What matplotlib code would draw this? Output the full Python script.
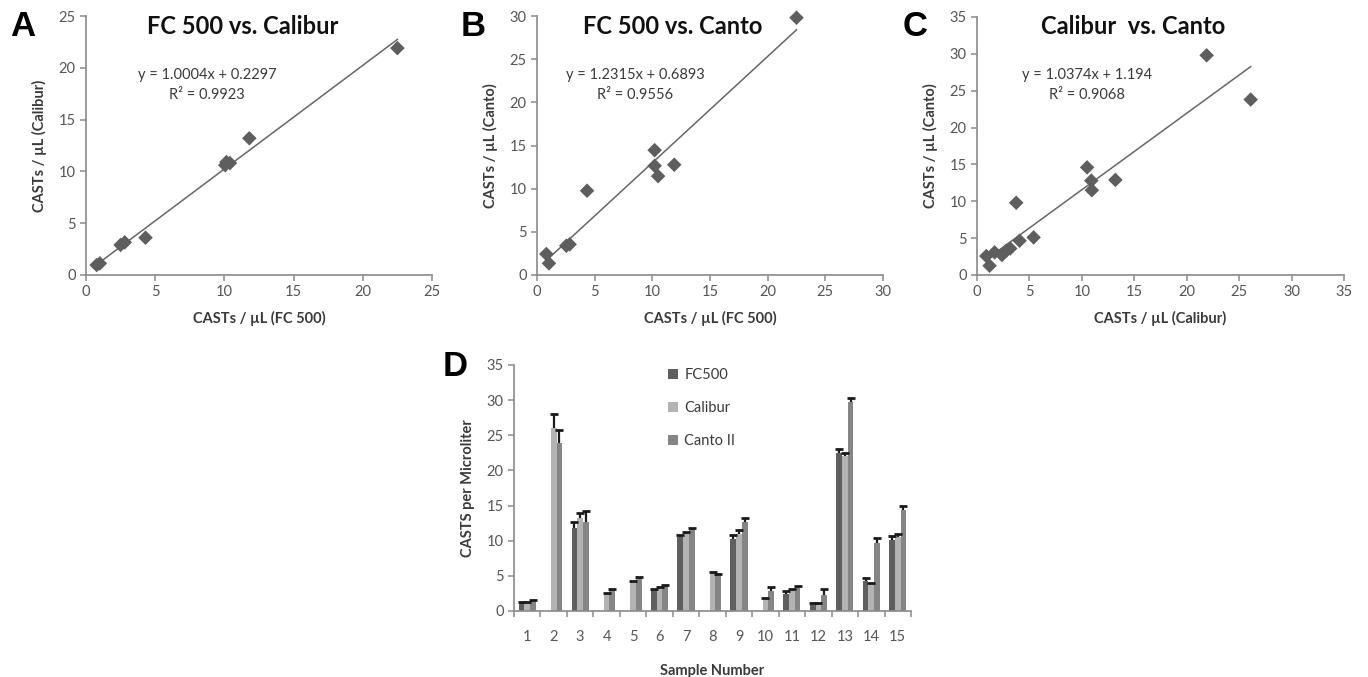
import matplotlib
matplotlib.use("Agg")
import matplotlib.pyplot as plt
import numpy as np

plt.rcParams['font.family'] = ['Lato', 'DejaVu Sans']

# ---------------- data ----------------
A_x = [0.77, 1.0, 2.5, 2.8, 4.3, 10.06, 10.15, 10.4, 11.8, 22.5]
A_y = [0.96, 1.12, 2.9, 3.15, 3.6, 10.6, 10.9, 10.8, 13.2, 21.9]
B_x = [0.81, 1.04, 2.54, 2.83, 4.34, 10.2, 10.2, 10.5, 11.9, 22.5]
B_y = [2.43, 1.35, 3.39, 3.55, 9.76, 14.46, 12.65, 11.45, 12.77, 29.8]
C_x = [0.89, 1.2, 1.68, 2.38, 2.79, 3.17, 3.74, 4.06, 5.4, 10.5, 10.9, 10.95, 13.2, 21.9, 26.1]
C_y = [2.57, 1.26, 3.07, 2.71, 3.3, 3.6, 9.8, 4.65, 5.1, 14.6, 12.8, 11.5, 12.9, 29.8, 23.8]

fit_slopes = [1.0004, 1.2315, 1.0374]
fit_intercepts = [0.2297, 0.6893, 1.194]
fit_eqs = ["y = 1.0004x + 0.2297", "y = 1.2315x + 0.6893", "y = 1.0374x + 1.194"]
fit_r2 = ["R² = 0.9923", "R² = 0.9556", "R² = 0.9068"]
titles = ["FC 500 vs. Calibur", "FC 500 vs. Canto", "Calibur  vs. Canto"]
xlabels = ["CASTs / µL (FC 500)", "CASTs / µL (FC 500)", "CASTs / µL (Calibur)"]
ylabels = ["CASTs / µL (Calibur)", "CASTs / µL (Canto)", "CASTs / µL (Canto)"]
axis_max = [25, 30, 35]
panel_letters = ["A", "B", "C", "D"]

samples = [str(i) for i in range(1, 16)]
series_names = ["FC500", "Calibur", "Canto II"]
FC500 = [1.2, 0, 11.8, 0, 0, 2.95, 10.5, 0, 10.2, 0, 2.43, 1.05, 22.5, 4.3, 10.1]
FC500_err = [0.1, 0, 0.9, 0, 0, 0.15, 0.3, 0, 0.6, 0, 0.35, 0.1, 0.5, 0.45, 0.6]
Calibur = [1.2, 26.1, 13.2, 2.4, 4.15, 3.3, 11.0, 5.45, 10.9, 1.76, 2.86, 1.05, 22.1, 3.8, 10.5]
Calibur_err = [0.1, 1.9, 0.7, 0.12, 0.15, 0.15, 0.3, 0.08, 0.6, 0.05, 0.2, 0.05, 0.35, 0.15, 0.4]
Canto = [1.45, 23.9, 12.7, 2.95, 4.76, 3.67, 11.5, 5.24, 12.7, 2.9, 3.29, 2.24, 29.8, 9.7, 14.4]
Canto_err = [0.1, 1.8, 1.5, 0.15, 0.1, 0.1, 0.3, 0.05, 0.5, 0.45, 0.3, 0.85, 0.5, 0.75, 0.6]

# ---------------- figure ----------------
W, H = 1368, 677
fig = plt.figure(figsize=(W / 100, H / 100), dpi=100)
fig.patch.set_facecolor("white")

def px_axes(l, t, r, b):
    return fig.add_axes([l / W, (H - b) / H, (r - l) / W, (b - t) / H])

spine_c = "#8a8a8a"
tick_c = "#555555"
label_c = "#3a3a3a"

def style(ax):
    for s in ["top", "right"]:
        ax.spines[s].set_visible(False)
    for s in ["left", "bottom"]:
        ax.spines[s].set_color(spine_c)
        ax.spines[s].set_linewidth(1.2)
    ax.tick_params(colors=spine_c, labelcolor=tick_c, labelsize=10.5,
                   direction="out", length=4, width=1.1)

scatter_boxes = [(86, 16, 432, 275), (537, 16, 883, 275), (977, 17, 1344, 275)]
scatter_x = [A_x, B_x, C_x]
scatter_y = [A_y, B_y, C_y]
title_x = [243, 673, 1133]
eq_x = [207, 635, 1087]
letter_x = [23, 473, 915]

for i in range(3):
    l, t, r, b = scatter_boxes[i]
    ax = px_axes(l, t, r, b)
    style(ax)
    m = axis_max[i]
    ax.set_xlim(0, m)
    ax.set_ylim(0, m)
    ax.set_xticks(np.arange(0, m + 1, 5))
    ax.set_yticks(np.arange(0, m + 1, 5))
    xs = np.array(scatter_x[i])
    ys = np.array(scatter_y[i])
    lx = np.array([xs.min(), xs.max()])
    ax.plot(lx, fit_slopes[i] * lx + fit_intercepts[i], color="#666666", lw=1.1, zorder=2)
    ax.scatter(xs, ys, marker="D", s=55, color="#5e5e5e", edgecolors="none", zorder=3,
               clip_on=False)
    ax.set_xlabel(xlabels[i], fontsize=10.5, fontweight="bold", color=label_c, labelpad=8)
    ax.set_ylabel(ylabels[i], fontsize=10.5, fontweight="bold", color=label_c, labelpad=8)
    fig.text(title_x[i] / W, 1 - 27 / H, titles[i], fontsize=17, fontweight="bold",
             color="#111111", ha="center", va="center")
    fig.text(eq_x[i] / W, 1 - 75 / H, fit_eqs[i], fontsize=10.5, color="#3a3a3a",
             ha="center", va="center")
    fig.text(eq_x[i] / W, 1 - 95 / H, fit_r2[i], fontsize=10.5, color="#3a3a3a",
             ha="center", va="center")
    fig.text(letter_x[i] / W, 1 - 27 / H, panel_letters[i], fontsize=25, fontweight="bold",
             family=["Liberation Sans", "DejaVu Sans"], color="black", ha="center", va="center")

# ---------------- bar chart D ----------------
axd = px_axes(514, 365, 911, 611)
style(axd)
n = len(samples)
x = np.arange(n)
bw = 0.215
vals = [FC500, Calibur, Canto]
errs = [FC500_err, Calibur_err, Canto_err]
colors = ["#5f5f5f", "#b3b3b3", "#858585"]
for k in range(3):
    pos = x + (k - 1) * bw
    v = np.array(vals[k])
    e = np.array(errs[k])
    axd.bar(pos, v, width=bw, color=colors[k], label=series_names[k], zorder=2)
    mask = v > 0
    eb = axd.errorbar(pos[mask], v[mask], yerr=[np.zeros(mask.sum()), e[mask]], fmt="none",
                      ecolor="#1a1a1a", elinewidth=1.6, capsize=3, capthick=2.0, zorder=3)
    caps = eb[1]
    if len(caps) >= 2:
        caps[0].set_visible(False)
axd.set_xlim(-0.5, n - 0.5)
axd.set_ylim(0, 35)
axd.set_yticks(np.arange(0, 36, 5))
axd.set_xticks(np.arange(-0.5, n, 1.0))
axd.set_xticklabels([])
axd.set_xticks(x, minor=True)
axd.set_xticklabels(samples, minor=True)
axd.tick_params(axis="x", which="minor", length=0, pad=14, labelsize=10.5, labelcolor=tick_c)
axd.set_ylabel("CASTS per Microliter", fontsize=10.5, fontweight="bold", color=label_c, labelpad=8)
axd.set_xlabel("Sample Number", fontsize=10.5, fontweight="bold", color=label_c, labelpad=14)
leg = axd.legend(loc="upper left", bbox_to_anchor=((655 - 514) / 397, 1.04), frameon=False,
                 fontsize=10.5, handlelength=0.7, handleheight=0.7, handletextpad=0.4,
                 labelspacing=1.3, labelcolor="#3a3a3a")
fig.text(455 / W, 1 - 367 / H, panel_letters[3], fontsize=25, fontweight="bold",
         family=["Liberation Sans", "DejaVu Sans"], color="black", ha="center", va="center")

fig.savefig("out.png", dpi=100, facecolor="white")
